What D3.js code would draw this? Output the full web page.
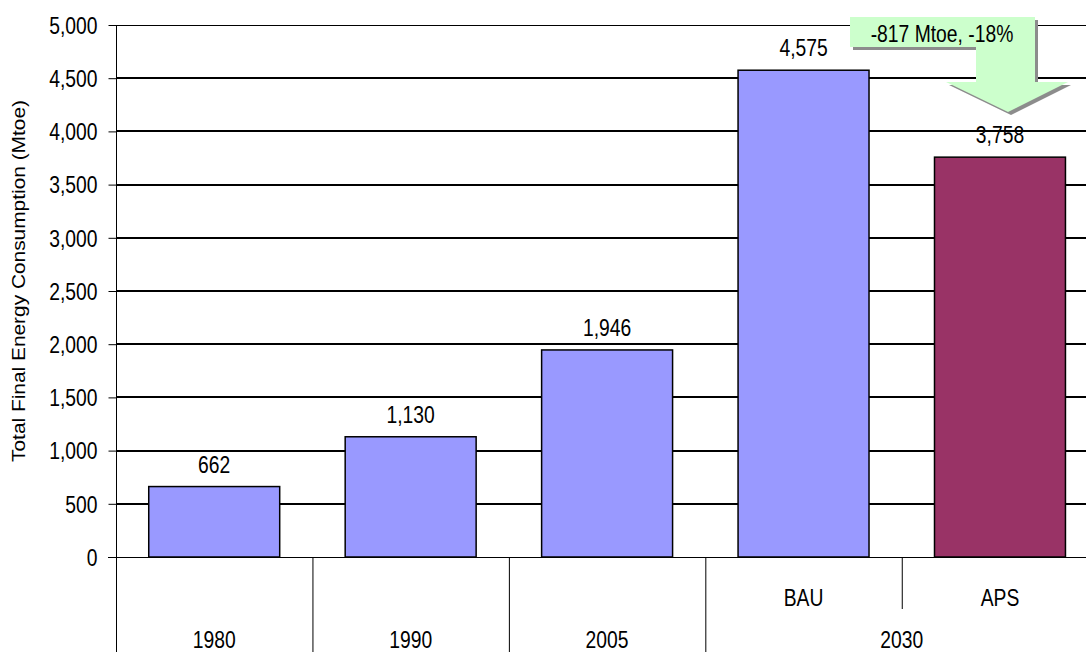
<!DOCTYPE html>
<html>
<head>
<meta charset="utf-8">
<script src="https://cdn.jsdelivr.net/npm/d3@7"></script>
<style>
  html, body { margin: 0; padding: 0; background: #fff; }
  svg { display: block; }
  text { font-family: 'Liberation Sans', Arial, sans-serif; fill: #000; }
</style>
</head>
<body>
<svg id="chart" width="1086" height="652"></svg>
<script>
// ---- data ----
const categories = ["1980", "1990", "2005", "BAU", "APS"];
const values = [662, 1130, 1946, 4575, 3758];
const barColors = ["#9999ff", "#9999ff", "#9999ff", "#9999ff", "#993366"];
const subLabels = ["", "", "", "BAU", "APS"];
const groupLabels = ["1980", "1990", "2005", "2030"];
const groupMembers = [["1980"], ["1990"], ["2005"], ["BAU", "APS"]];
const yTicks = [0, 500, 1000, 1500, 2000, 2500, 3000, 3500, 4000, 4500, 5000];
const yTitle = "Total Final Energy Consumption (Mtoe)";
const annotationText = "-817 Mtoe, -18%";

// ---- layout ----
const W = 1086, H = 652;
const pLeft = 116, pRight = 1098.2, pTop = 25, pBottom = 557;
const SX = 0.84;           // condensed look of the lettering
const FS = 23;
const fmt = d3.format(",");

const svg = d3.select("#chart");

function label(parent, x, y, txt, anchor) {
  return parent.append("text")
    .attr("transform", `translate(${x},${y}) scale(${SX},1)`)
    .attr("text-anchor", anchor || "middle")
    .style("font-size", FS + "px")
    .text(txt);
}

const x = d3.scaleBand().domain(categories).range([pLeft, pRight])
  .paddingInner(1/3).paddingOuter(1/6);
const y = d3.scaleLinear().domain([0, 5000]).range([pBottom, pTop]);

// top border line
svg.append("line").attr("x1", pLeft).attr("x2", W).attr("y1", y(5000) + 0.5).attr("y2", y(5000) + 0.5)
  .attr("stroke", "#000").attr("stroke-width", 1);

// gridlines
svg.append("g").selectAll("line").data(yTicks.filter(t => t > 0 && t < 5000)).join("line")
  .attr("x1", pLeft).attr("x2", W)
  .attr("y1", d => Math.round(y(d))).attr("y2", d => Math.round(y(d)))
  .attr("stroke", "#000").attr("stroke-width", 2);

// y axis
const yAxis = d3.axisLeft(y).tickValues(yTicks).tickFormat(fmt).tickSize(8).tickPadding(11);
const ga = svg.append("g").attr("transform", `translate(${pLeft + 0.5},0)`).call(yAxis);
ga.select(".domain").remove();
ga.selectAll(".tick line").attr("stroke", "#000").attr("stroke-width", 1);
ga.selectAll(".tick text")
  .attr("x", -19 / SX)
  .attr("transform", `scale(${SX},1)`)
  .attr("dy", "0.36em")
  .style("font-size", FS + "px")
  .style("font-family", "'Liberation Sans', Arial, sans-serif");

// bars
svg.append("g").selectAll("rect").data(categories).join("rect")
  .attr("x", d => x(d))
  .attr("y", (d, i) => y(values[i]))
  .attr("width", x.bandwidth())
  .attr("height", (d, i) => y(0) - y(values[i]))
  .attr("fill", (d, i) => barColors[i])
  .attr("stroke", "#000").attr("stroke-width", 1.5);

// value labels
const gv = svg.append("g");
categories.forEach((c, i) => {
  label(gv, x(c) + x.bandwidth() / 2, y(values[i]) - 14, fmt(values[i]));
});

// axis lines (vertical + baseline)
svg.append("line").attr("x1", pLeft + 0.5).attr("x2", pLeft + 0.5).attr("y1", pTop).attr("y2", H)
  .attr("stroke", "#000").attr("stroke-width", 1);
svg.append("line").attr("x1", pLeft - 8).attr("x2", W).attr("y1", pBottom + 0.5).attr("y2", pBottom + 0.5)
  .attr("stroke", "#000").attr("stroke-width", 1);

// category separators and labels
const step = x.step();
const bandStart = d => x(d) - x.paddingOuter() * step;
const gc = svg.append("g");
groupMembers.forEach((members, gi) => {
  const gx0 = bandStart(members[0]);
  gc.append("line").attr("x1", gx0 + 0.5).attr("x2", gx0 + 0.5).attr("y1", pBottom).attr("y2", H)
    .attr("stroke", "#000").attr("stroke-width", 1);
  members.forEach((m, mi) => {
    if (mi > 0) {
      const sx = bandStart(m);
      gc.append("line").attr("x1", sx + 0.5).attr("x2", sx + 0.5).attr("y1", pBottom).attr("y2", 609)
        .attr("stroke", "#000").attr("stroke-width", 1);
    }
  });
  const gx1 = bandStart(members[members.length - 1]) + step;
  label(gc, (gx0 + gx1) / 2, 648, groupLabels[gi]);
});
categories.forEach((c, i) => {
  if (subLabels[i]) label(gc, x(c) + x.bandwidth() / 2, 606, subLabels[i]);
});

// y title
svg.append("text")
  .attr("transform", `translate(25,281) rotate(-90) scale(1.16,1)`)
  .attr("text-anchor", "middle").style("font-size", "18px")
  .text(yTitle);

// annotation arrow
const pts = [[850,17],[1035,17],[1035,82],[1068,82],[1008,112],[946,82],[976,82],[976,47],[850,47]];
const lineGen = d3.line();
svg.append("path").attr("d", lineGen(pts) + "Z").attr("transform", "translate(3,3)")
  .attr("fill", "#8c8c8c");
svg.append("path").attr("d", lineGen(pts) + "Z").attr("fill", "#ccffcc");
label(svg, 942, 42, annotationText);
</script>
</body>
</html>
